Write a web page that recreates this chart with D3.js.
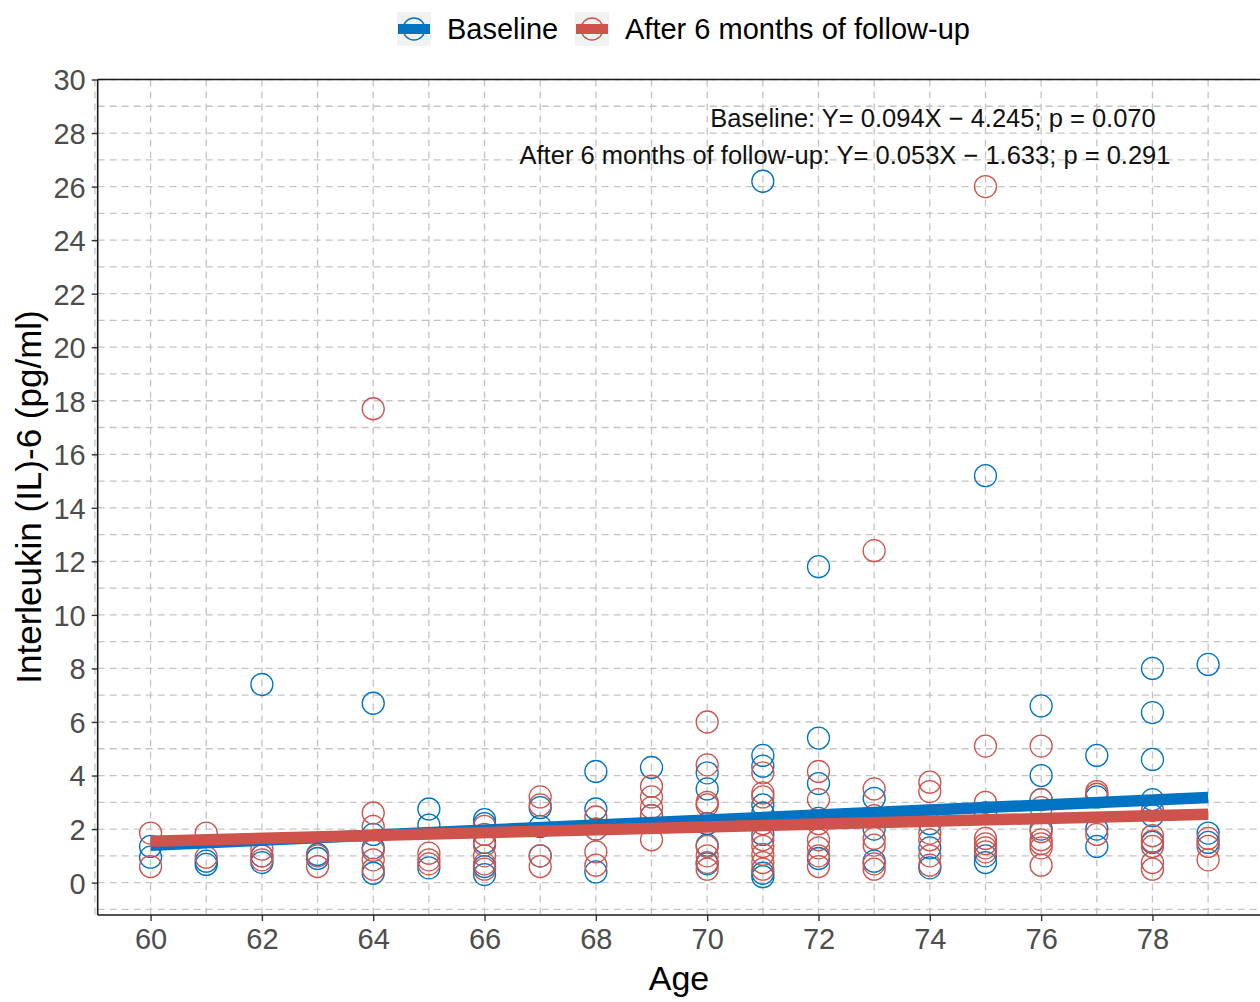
<!DOCTYPE html>
<html>
<head>
<meta charset="utf-8">
<script src="https://cdn.jsdelivr.net/npm/d3@7"></script>
<style>
  html, body { margin: 0; padding: 0; background: #fff; }
  svg text { font-family: "Liberation Sans", Arial, sans-serif; }
</style>
</head>
<body>
<div id="chart"></div>
<script>
// Series names and colours (jco palette)
const seriesNames = ['Baseline', 'After 6 months of follow-up'];
const seriesColors = ['#0073C2', '#CD534C'];

// IL-6 values, [age, pg/ml]
const baselinePoints = [
  [60, 1.35], [60, 0.95],
  [61, 0.8], [61, 0.68],
  [62, 7.4], [62, 1.0], [62, 0.75],
  [63, 1.05], [63, 0.9],
  [64, 6.7], [64, 1.8], [64, 1.3], [64, 0.35],
  [65, 2.75], [65, 2.15], [65, 0.55],
  [66, 2.35], [66, 2.2], [66, 1.5], [66, 0.6], [66, 0.3],
  [67, 2.8], [67, 2.1], [67, 1.0],
  [68, 4.15], [68, 2.75], [68, 2.0], [68, 0.4],
  [69, 4.3], [69, 2.5],
  [70, 4.1], [70, 3.5], [70, 2.2], [70, 1.4], [70, 0.7],
  [71, 26.2], [71, 4.75], [71, 4.35], [71, 2.9], [71, 2.6], [71, 1.8], [71, 0.35], [71, 0.22],
  [72, 11.8], [72, 5.4], [72, 3.7], [72, 2.4], [72, 0.9],
  [73, 3.15], [73, 2.0], [73, 0.8],
  [74, 2.2], [74, 1.3], [74, 0.55],
  [75, 15.2], [75, 2.6], [75, 1.0], [75, 0.75],
  [76, 6.6], [76, 4.0], [76, 3.1], [76, 2.0],
  [77, 4.75], [77, 3.2], [77, 2.0], [77, 1.35],
  [78, 8.0], [78, 6.35], [78, 4.6], [78, 3.1], [78, 2.5], [78, 1.5],
  [79, 8.15], [79, 1.85], [79, 1.5],
];

const followupPoints = [
  [60, 1.85], [60, 0.6],
  [61, 1.85], [61, 0.95],
  [62, 1.25], [62, 1.0], [62, 0.85],
  [63, 1.0], [63, 0.6],
  [64, 17.7], [64, 2.6], [64, 2.1], [64, 1.2], [64, 0.85], [64, 0.5],
  [65, 1.1], [65, 0.85], [65, 0.7],
  [66, 2.1], [66, 1.8], [66, 1.4], [66, 1.0], [66, 0.7], [66, 0.5],
  [67, 3.2], [67, 2.9], [67, 1.0], [67, 0.6],
  [68, 2.45], [68, 2.0], [68, 1.15], [68, 0.65],
  [69, 3.6], [69, 3.2], [69, 2.8], [69, 2.5], [69, 1.6],
  [70, 6.0], [70, 4.4], [70, 3.0], [70, 2.9], [70, 1.35], [70, 1.0], [70, 0.75], [70, 0.5],
  [71, 4.1], [71, 3.35], [71, 3.2], [71, 2.2], [71, 1.6], [71, 1.35], [71, 1.05], [71, 0.75], [71, 0.5],
  [72, 4.15], [72, 3.1], [72, 2.2], [72, 1.6], [72, 1.3], [72, 1.0], [72, 0.6],
  [73, 12.4], [73, 3.5], [73, 2.5], [73, 1.65], [73, 1.4], [73, 0.7], [73, 0.5],
  [74, 3.75], [74, 3.4], [74, 1.85], [74, 1.6], [74, 1.0], [74, 0.65],
  [75, 26.0], [75, 5.1], [75, 3.0], [75, 1.65], [75, 1.45], [75, 1.3], [75, 1.15],
  [76, 5.1], [76, 3.1], [76, 2.8], [76, 1.9], [76, 1.6], [76, 1.45], [76, 1.3], [76, 0.65],
  [77, 3.4], [77, 3.3], [77, 1.8],
  [78, 2.7], [78, 1.75], [78, 1.55], [78, 1.35], [78, 0.75], [78, 0.5],
  [79, 1.65], [79, 1.35], [79, 0.85],
];

// Linear fits as printed on the chart
const fitSlopes = [0.094, 0.053];
const fitIntercepts = [-4.245, -1.633];
const fitPValues = ['0.070', '0.291'];

const xTicks = d3.range(60, 79, 2);
const yTicks = d3.range(0, 31, 2);

const W = 1260, H = 1002;
const panel = { left: 97.7, right: 1261, top: 79.5, bottom: 915 };

const svg = d3.select('#chart').append('svg')
  .attr('width', W)
  .attr('height', H);

const x = d3.scaleLinear().domain([59.05, 79.95]).range([panel.left, panel.right]);
const y = d3.scaleLinear().domain([-1.21, 30]).range([panel.bottom, panel.top]);

// grid: dashed at every unit on both axes
const grid = svg.append('g').attr('class', 'grid')
  .attr('stroke', '#c4c4c4')
  .attr('stroke-width', 1.3)
  .attr('stroke-dasharray', '7,5');

grid.selectAll('line.gx')
  .data(d3.range(59, 80))
  .enter().append('line')
  .attr('x1', (d) => x(d)).attr('x2', (d) => x(d))
  .attr('y1', panel.top).attr('y2', panel.bottom);

grid.selectAll('line.gy')
  .data(d3.range(-1, 31))
  .enter().append('line')
  .attr('y1', (d) => y(d)).attr('y2', (d) => y(d))
  .attr('x1', panel.left).attr('x2', panel.right);

// points, baseline first then follow-up on top
const allSeries = [baselinePoints, followupPoints];
allSeries.forEach((pts, i) => {
  svg.append('g').selectAll('circle')
    .data(pts)
    .enter().append('circle')
    .attr('cx', (d) => x(d[0]))
    .attr('cy', (d) => y(d[1]))
    .attr('r', 11)
    .attr('fill', 'none')
    .attr('stroke', seriesColors[i])
    .attr('stroke-width', 1.3);
});

// regression lines over the age range of each series
allSeries.forEach((pts, i) => {
  const ext = d3.extent(pts, (d) => d[0]);
  const line = d3.line()
    .x((d) => x(d))
    .y((d) => y(fitSlopes[i] * d + fitIntercepts[i]));
  svg.append('path')
    .datum(ext)
    .attr('d', line)
    .attr('fill', 'none')
    .attr('stroke', seriesColors[i])
    .attr('stroke-width', 11.5);
});

// axes
const xAxis = d3.axisBottom(x).tickValues(xTicks).tickSize(6).tickPadding(5).tickFormat(d3.format('d'));
const yAxis = d3.axisLeft(y).tickValues(yTicks).tickSize(6).tickPadding(6).tickFormat(d3.format('d'));

const gx = svg.append('g')
  .attr('transform', 'translate(0,' + panel.bottom + ')')
  .call(xAxis);
const gy = svg.append('g')
  .attr('transform', 'translate(' + panel.left + ',0)')
  .call(yAxis);

[gx, gy].forEach((g) => {
  g.select('.domain').remove();
  g.selectAll('.tick line').attr('stroke', '#333').attr('stroke-width', 1.4);
  g.selectAll('.tick text')
    .attr('fill', '#4d4d4d')
    .style('font-size', '29px');
});
gx.selectAll('.tick text').attr('dy', '0.8em');
gy.selectAll('.tick text').attr('dy', '0.36em');

// axis lines: left, bottom, top
svg.append('line')
  .attr('x1', panel.left).attr('x2', panel.left)
  .attr('y1', panel.top).attr('y2', panel.bottom)
  .attr('stroke', '#1a1a1a').attr('stroke-width', 1.6);
svg.append('line')
  .attr('x1', panel.left).attr('x2', W)
  .attr('y1', panel.bottom).attr('y2', panel.bottom)
  .attr('stroke', '#1a1a1a').attr('stroke-width', 1.6);
svg.append('line')
  .attr('x1', panel.left).attr('x2', W)
  .attr('y1', panel.top).attr('y2', panel.top)
  .attr('stroke', '#1a1a1a').attr('stroke-width', 1.6);

// axis titles
svg.append('text')
  .attr('x', 679).attr('y', 990)
  .attr('text-anchor', 'middle')
  .style('font-size', '34px')
  .text('Age');
svg.append('text')
  .attr('transform', 'translate(41,497) rotate(-90)')
  .attr('text-anchor', 'middle')
  .style('font-size', '35px')
  .text('Interleukin (IL)-6 (pg/ml)');

// fit annotations
const annoCenters = [933, 845];
const annoBaselines = [127, 164];
seriesNames.forEach((name, i) => {
  const b = Math.abs(fitIntercepts[i]).toFixed(3);
  const sign = fitIntercepts[i] < 0 ? '\u2212' : '+';
  svg.append('text')
    .attr('x', annoCenters[i]).attr('y', annoBaselines[i])
    .attr('text-anchor', 'middle')
    .attr('fill', '#111')
    .style('font-size', '25.5px')
    .text(name + ': Y= ' + fitSlopes[i].toFixed(3) + 'X ' + sign + ' ' + b + '; p = ' + fitPValues[i]);
});

// legend
const keyX = [397, 575];
const textX = [447, 625];
seriesNames.forEach((name, i) => {
  const g = svg.append('g').attr('transform', 'translate(' + keyX[i] + ',12)');
  g.append('rect')
    .attr('width', 34).attr('height', 34)
    .attr('fill', '#f2f2f2');
  g.append('circle')
    .attr('cx', 17).attr('cy', 17).attr('r', 11)
    .attr('fill', 'none')
    .attr('stroke', seriesColors[i])
    .attr('stroke-width', 1.3);
  g.append('line')
    .attr('x1', 1).attr('x2', 33)
    .attr('y1', 17).attr('y2', 17)
    .attr('stroke', seriesColors[i])
    .attr('stroke-width', 10);
  svg.append('text')
    .attr('x', textX[i]).attr('y', 39)
    .style('font-size', '29px')
    .attr('fill', '#000')
    .text(name);
});
</script>
</body>
</html>
